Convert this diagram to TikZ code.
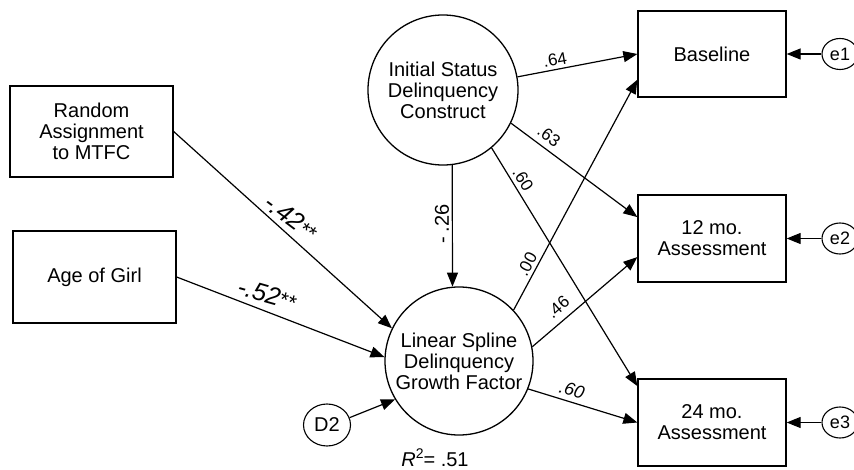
\documentclass[tikz,border=0pt]{standalone}
\usepackage{fontspec}
\setmainfont{Liberation Sans}
\usetikzlibrary{arrows.meta}
\usetikzlibrary{shapes.geometric}

\tikzstyle{obsbox}=[draw, line width=1.3pt, rectangle, minimum width=148pt, minimum height=86pt, inner sep=0pt, align=center, font=\fontsize{20}{21}\selectfont]
\tikzstyle{latent}=[draw, line width=1.3pt, circle, minimum size=150pt, inner sep=0pt, align=center, font=\fontsize{20}{21}\selectfont]
\tikzstyle{errnode}=[draw, line width=1.1pt, ellipse, minimum width=36pt, minimum height=31pt, inner sep=0pt, font=\fontsize{18}{18}\selectfont]
\tikzstyle{semarrow}=[line width=1.2pt, -{Triangle[length=14pt,width=11pt]}]
\tikzstyle{coef}=[inner sep=0pt, font=\fontsize{17}{17}\selectfont]
\tikzstyle{bigcoef}=[inner sep=0pt, font=\fontsize{25}{25}\selectfont\itshape]

\begin{document}
\begin{tikzpicture}[x=1pt, y=-1pt]

        \useasboundingbox (0,0) rectangle (854,470);

        % predictors
        \node [obsbox, minimum width=163pt, minimum height=91pt] (rand) at (91.5,131.5) {Random\\Assignment\\to MTFC};
        \node [obsbox, minimum width=163pt, minimum height=92pt] (age) at (94.5,277) {Age of Girl};

        % latent factors
        \node [latent] (init) at (443,90) {Initial Status\\Delinquency\\Construct};
        \node [latent, minimum size=148pt] (spline) at (459,361) {Linear Spline\\Delinquency\\Growth Factor};
        \node [errnode, minimum width=47pt, minimum height=42pt, font=\fontsize{20}{20}\selectfont] (d2) at (327,425) {D2};

        % observed waves
        \node [obsbox] (base) at (712,54) {Baseline};
        \node [obsbox, minimum height=87pt] (twelve) at (712,238.5) {12 mo.\\Assessment};
        \node [obsbox, minimum height=87pt] (twofour) at (712,422.5) {24 mo.\\Assessment};

        \node [errnode] (e1) at (840,54) {e1};
        \node [errnode] (e2) at (840,238.5) {e2};
        \node [errnode] (e3) at (840,422.5) {e3};

        % paths
        \draw [semarrow] (rand.east) -- (spline.154);
        \draw [semarrow] (age.east) -- (spline.177);
        \draw [semarrow] (d2.18) -- (spline.211);
        \draw [semarrow] (init.-83) -- (spline.95);

        \draw [semarrow] (init.10) -- (base.west);
        \draw [semarrow] (init.-26) -- (twelve.164);
        \draw [semarrow] (init.-50) -- (twofour.154);

        \draw [semarrow] (spline.43) -- (base.199);
        \draw [semarrow] (spline.11) -- (twelve.194);
        \draw [semarrow] (spline.-22) -- (twofour.west);

        \draw [semarrow] (e1) -- (base);
        \draw [semarrow] (e2) -- (twelve);
        \draw [semarrow] (e3) -- (twofour);

        % coefficients
        \node [coef, rotate=10] (c64) at (555,60) {.64};
        \node [coef, rotate=-36] (c63) at (549,136) {.63};
        \node [coef, rotate=-58] (c60a) at (523,179) {.60};
        \node [coef, rotate=90, font=\fontsize{20}{20}\selectfont] (c26) at (442,224) {-\kern5pt.26};
        \node [coef, rotate=62] (c00) at (527,264) {.00};
        \node [coef, rotate=41] (c46) at (558,307) {.46};
        \node [coef, rotate=-17, font=\fontsize{18}{18}\selectfont\itshape] (c60b) at (572,390) {.60};

        \node [bigcoef, rotate=-37] (c42) at (291,217) {-.42{\fontsize{21}{21}\selectfont **}};
        \node [bigcoef, rotate=-16] (c52) at (267,294) {-.52{\fontsize{21}{21}\selectfont **}};

        \node [font=\fontsize{20}{20}\selectfont] (rsq) at (435,458) {{\itshape R}\raisebox{8pt}{\fontsize{14}{14}\selectfont 2}= .51};

\end{tikzpicture}
\end{document}
